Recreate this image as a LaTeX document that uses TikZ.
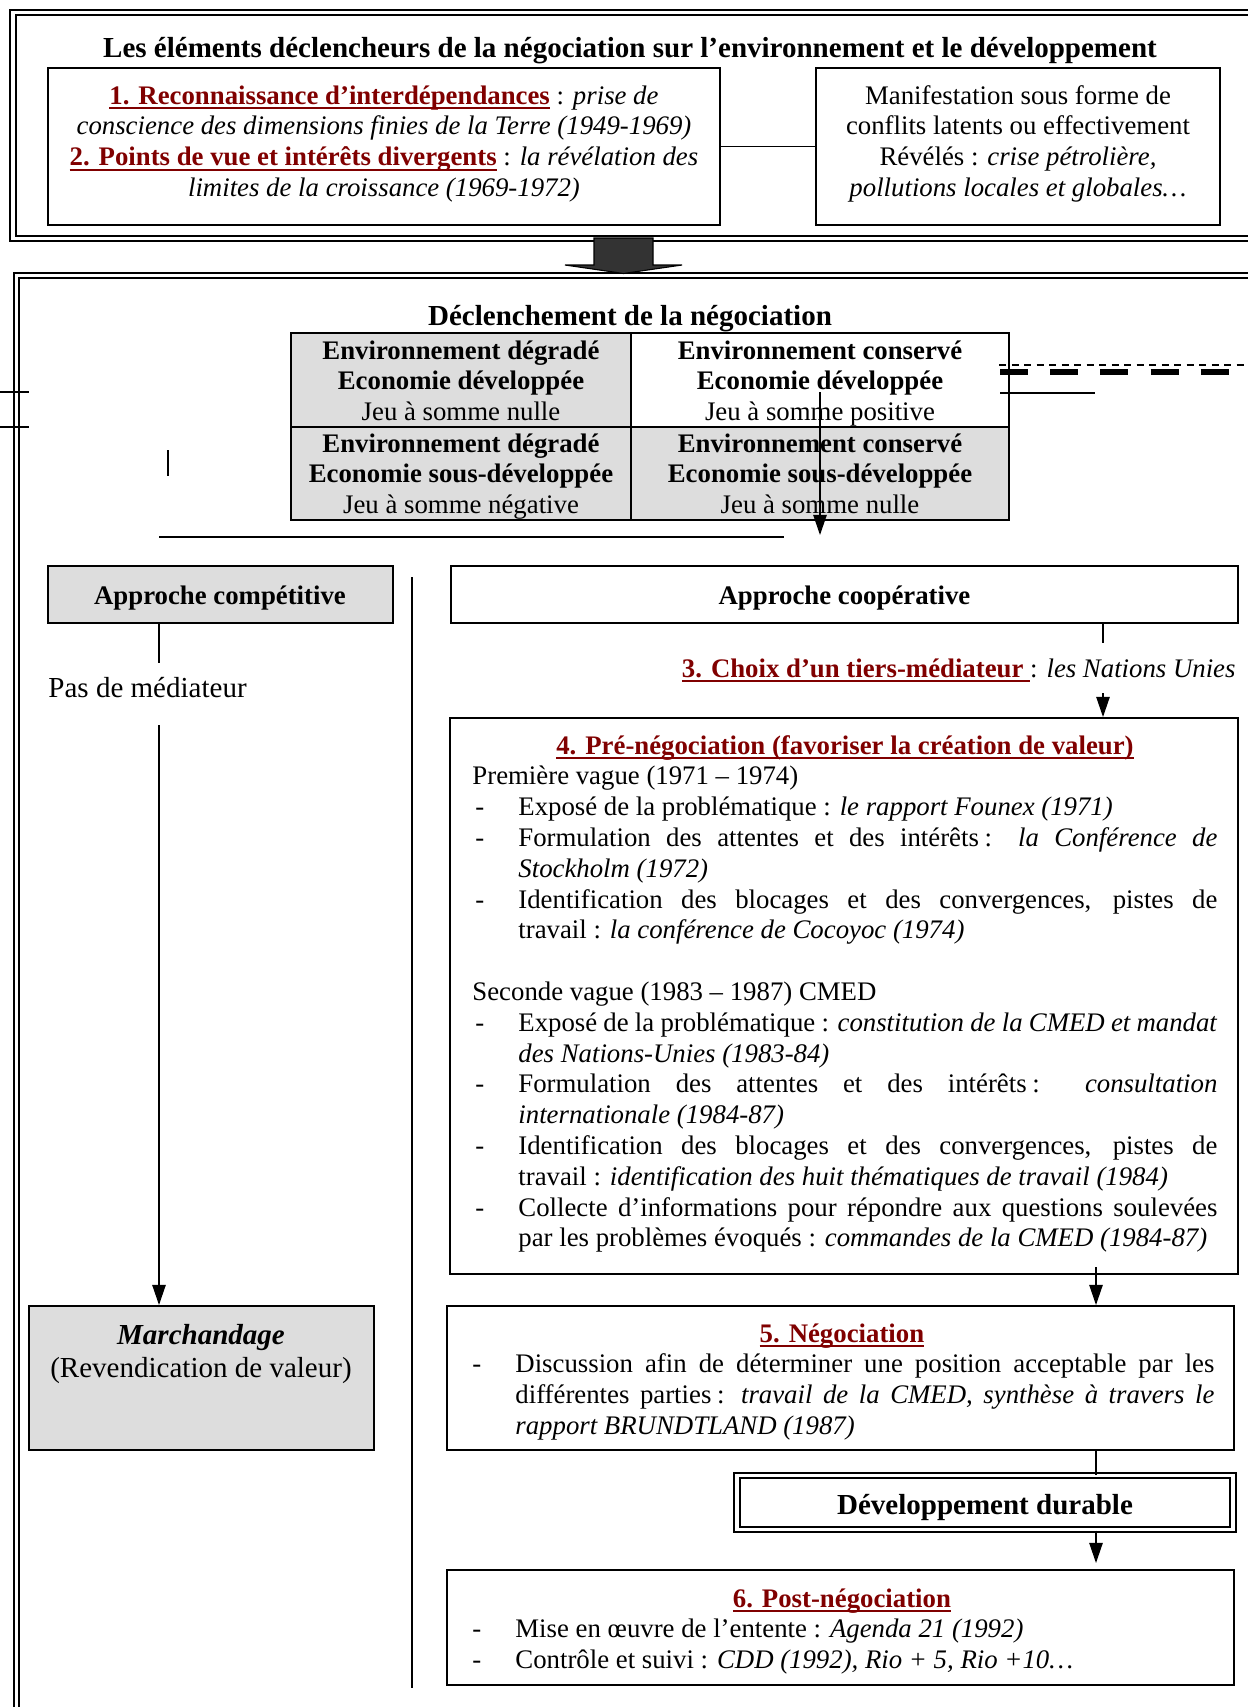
\documentclass[tikz,border=0pt]{standalone}
\usepackage{fontspec}
\setmainfont{Liberation Serif}
\usetikzlibrary{arrows.meta,fit}

\definecolor{rougefonce}{RGB}{128,0,0}
\definecolor{grisclair}{RGB}{221,221,221}
\definecolor{grisfonce}{RGB}{51,51,51}

\newlength{\px}\setlength{\px}{0.448pt}
\newlength{\retrait}\setlength{\retrait}{20.6pt}

% soulignement rouge epais
\newcommand{\souligne}[1]{\setbox0\hbox{#1}\rlap{\rule[-2.3pt]{\wd0}{0.8pt}}\box0}
\newcommand{\etape}[1]{\textcolor{rougefonce}{\bfseries\souligne{#1}}}
% lignes de liste
\newcommand{\tiret}[1]{\par\noindent\hbox to\retrait{\hspace{1.3pt}-\hfil}#1}
\newcommand{\suite}[1]{\par\noindent\hbox to\retrait{\hfil}#1}
\newcommand{\pleine}[1]{\hbox to\dimexpr\hsize-\retrait\relax{#1}}
\newcommand{\deuxp}{\hspace{2.5pt}:}
\newcommand{\cellule}[3]{\parbox[t]{330\px}{\centering\textbf{#1}\\\textbf{#2}\\#3}}

\tikzset{
  boite/.style={draw, line width=0.9pt, inner sep=0pt},
  grise/.style={boite, fill=grisclair},
  cadre/.style={draw, double, line width=0.9pt, double distance=1.5pt},
  lien/.style={line width=0.6pt},
  fleche/.style={line width=0.6pt, -{Triangle[length=9pt,width=6pt]}},
  texte/.style={inner sep=0pt, font=\fontsize{12}{13.8}\selectfont},
  grand/.style={inner sep=0pt, font=\fontsize{13}{14.95}\selectfont},
}

\begin{document}
\begin{tikzpicture}[x=0.448pt, y=-0.448pt]
  \def\Xg{159}
  \def\Xc{1103}
  \def\Xd{1096}

  % page
  \useasboundingbox (0,0) rectangle (1248,1707);
  \clip (0,0) rectangle (1248,1707);

  % double frames
  \draw[cadre] (13,12.5) rectangle (1270,238.5);
  \draw[cadre] (16.5,275.5) rectangle (1270,1730);

  % top part
  \node[grand, anchor=base] (titre) at (630,57) {\textbf{Les éléments déclencheurs de la négociation sur l’environnement et le développement}};
  \node[boite, fit={(48,68) (720,225)}] (gauche) {};
  \node[boite, fit={(816,68) (1220,225)}] (droite) {};
  \draw[lien] (gauche) -- (droite);
  \node[texte, anchor=base] (t-gauche) at (384,104) {\parbox[t]{660\px}{\centering
    \etape{1. Reconnaissance d’interdépendances} : \textit{prise de}\\
    \textit{conscience des dimensions finies de la Terre (1949-1969)}\\
    \etape{2. Points de vue et intérêts divergents} : \textit{la révélation des}\\
    \textit{limites de la croissance (1969-1972)}}};
  \node[texte, anchor=base] (t-droite) at (1018,104) {\parbox[t]{400\px}{\centering
    Manifestation sous forme de\\
    conflits latents ou effectivement\\
    Révélés : \textit{crise pétrolière,}\\
    \textit{pollutions locales et globales…}}};

  % big arrow
  \filldraw[fill=grisfonce, line width=0.5pt] (594,238) -- (653,238) -- (653,265) -- (682,265)
    -- (623.5,273.5) -- (565,265) -- (594,265) -- cycle;

  % table
  \node[grand, anchor=base] (declenchement) at (630,325) {\textbf{Déclenchement de la négociation}};
  \node[grise, fit={(291,333) (631,427)}] (c11) {};
  \node[boite, fit={(631,333) (1009,427)}] (c12) {};
  \node[grise, fit={(291,427) (631,520)}] (c21) {};
  \node[grise, fit={(631,427) (1009,520)}] (c22) {};
  \node[texte, anchor=base] (t-c11) at (461,359) {\cellule{Environnement dégradé}{Economie développée}{Jeu à somme nulle}};
  \node[texte, anchor=base] (t-c12) at (820,359) {\cellule{Environnement conservé}{Economie développée}{Jeu à somme positive}};
  \node[texte, anchor=base] (t-c21) at (461,452) {\cellule{Environnement dégradé}{Economie sous-développée}{Jeu à somme négative}};
  \node[texte, anchor=base] (t-c22) at (820,452) {\cellule{Environnement conservé}{Economie sous-développée}{Jeu à somme nulle}};

  % loose strokes
  \draw[lien] (0,392) -- (29,392);
  \draw[lien] (0,427) -- (29,427);
  \draw[line width=0.8pt] (168,450) -- (168,476);
  \draw[line width=0.8pt] (\Xg,537) -- (784,537);
  \coordinate (a1) at (820,392);
  \coordinate (a2) at (820,535);
  \draw[fleche] (a1) -- (a2);
  \draw[lien] (1000,393) -- (1095,393);
  \draw[lien, dash pattern=on 3.2pt off 2.4pt] (999,365) -- (1260,365);
  \draw[line width=2.6pt, dash pattern=on 12.5pt off 10pt] (1000,372) -- (1229,372);

  % approaches
  \node[grise, fit={(48,566) (393,623)}] (competitive) {};
  \node[boite, fit={(451,566) (1238,623)}] (cooperative) {};
  \node[texte, anchor=base] (t-competitive) at (220,604) {\textbf{Approche compétitive}};
  \node[texte, anchor=base] (t-cooperative) at (844.5,604) {\textbf{Approche coopérative}};
  \draw[line width=0.8pt] (412,577) -- (412,1688);

  % left branch
  \coordinate (g1) at (\Xg,663);
  \coordinate (g2) at (\Xg,725);
  \draw[lien] (competitive.south -| g1) -- (g1);
  \node[grand, anchor=base west] (pasmed) at (48,697) {Pas de médiateur};
  \node[grise, fit={(29,1306) (374,1450)}] (marchandage) {};
  \draw[fleche] (g2) -- (marchandage.north -| g2);
  \node[grand, anchor=base] (t-marchandage) at (201,1344) {\parbox[t]{340\px}{\centering
    \textbf{\textit{Marchandage}}\\(Revendication de valeur)}};

  % right branch
  \coordinate (d1) at (\Xc,643);
  \coordinate (d2) at (\Xc,693);
  \draw[lien] (cooperative.south -| d1) -- (d1);
  \node[texte, anchor=base east] (choix) at (1236,677) {\etape{3. Choix d’un tiers-médiateur\ }: \textit{les Nations Unies}};
  \node[boite, fit={(450,718) (1238,1274)}] (prenego) {};
  \draw[fleche] (d2) -- (prenego.north -| d2);
  \node[texte, anchor=base west] (t-prenego) at (472,754) {\parbox[t]{745\px}{%
    \hbox to\hsize{\hfil\etape{4. Pré-négociation (favoriser la création de valeur)}\hfil}
    \par\noindent Première vague (1971 – 1974)
    \tiret{Exposé de la problématique~: \textit{le rapport Founex (1971)}}
    \tiret{\pleine{Formulation des attentes et des intérêts\deuxp{} \textit{la Conférence de}}}
    \suite{\textit{Stockholm (1972)}}
    \tiret{\pleine{Identification des blocages et des convergences, pistes de}}
    \suite{travail~: \textit{la conférence de Cocoyoc (1974)}}
    \par\vspace{\baselineskip}
    \noindent Seconde vague (1983 – 1987) CMED
    \tiret{\pleine{Exposé de la problématique~: \textit{constitution de la CMED et mandat}}}
    \suite{\textit{des Nations-Unies (1983-84)}}
    \tiret{\pleine{Formulation des attentes et des intérêts\deuxp{} \textit{consultation}}}
    \suite{\textit{internationale (1984-87)}}
    \tiret{\pleine{Identification des blocages et des convergences, pistes de}}
    \suite{travail~: \textit{identification des huit thématiques de travail (1984)}}
    \tiret{\pleine{Collecte d’informations pour répondre aux questions soulevées}}
    \suite{par les problèmes évoqués~: \textit{commandes de la CMED (1984-87)}}}};

  % negociation
  \coordinate (d3) at (\Xd,1267);
  \coordinate (d4) at (\Xd,1563);
  \node[boite, fit={(447,1306) (1234,1450)}] (nego) {};
  \draw[fleche] (d3) -- (nego.north -| d3);
  \node[texte, anchor=base west] (t-nego) at (469,1342) {\parbox[t]{745\px}{%
    \hbox to\hsize{\hfil\etape{5. Négociation}\hfil}
    \tiret{\pleine{Discussion afin de déterminer une position acceptable par les}}
    \suite{\pleine{différentes parties\deuxp{} \textit{travail de la CMED, synthèse à travers le}}}
    \suite{\textit{rapport BRUNDTLAND (1987)}}}};

  % developpement durable
  \node[cadre, inner sep=0pt, fit={(737,1475.5) (1233,1529.5)}] (durable) {};
  \draw[lien] (nego.south -| d3) -- (durable.north -| d3);
  \node[grand, anchor=base, font=\fontsize{13}{15}\selectfont\bfseries] (t-durable) at (985,1514) {Développement durable};

  % post-negociation
  \node[boite, fit={(447,1570) (1234,1685)}] (postnego) {};
  \draw[fleche] (durable.south -| d3) -- (d4);
  \node[texte, anchor=base west] (t-postnego) at (469,1607) {\parbox[t]{745\px}{%
    \hbox to\hsize{\hfil\etape{6. Post-négociation}\hfil}
    \tiret{Mise en œuvre de l’entente~: \textit{Agenda 21 (1992)}}
    \tiret{Contrôle et suivi~: \textit{CDD (1992), Rio + 5, Rio +10…}}}};
\end{tikzpicture}
\end{document}
